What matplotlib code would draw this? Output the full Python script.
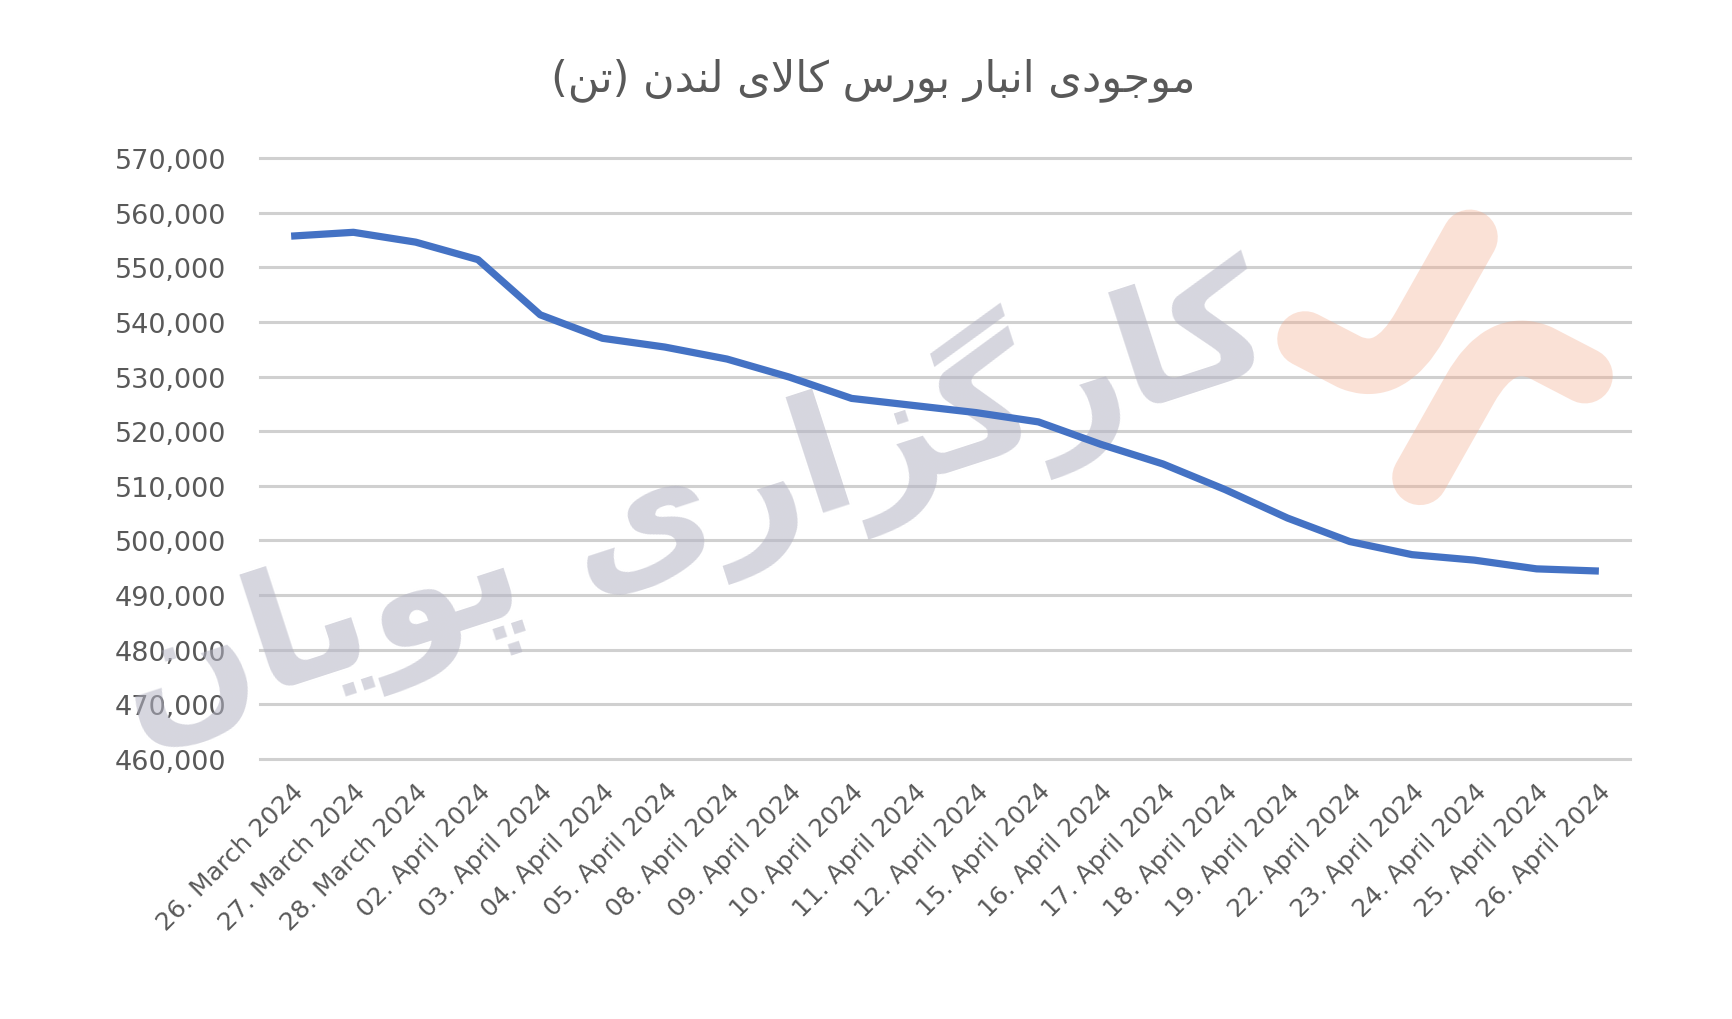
import matplotlib
matplotlib.use("Agg")
import matplotlib.pyplot as plt
from matplotlib.path import Path
from matplotlib.patches import PathPatch

# data (tonnes)
dates = ["26. March 2024", "27. March 2024", "28. March 2024",
         "02. April 2024", "03. April 2024", "04. April 2024", "05. April 2024",
         "08. April 2024", "09. April 2024", "10. April 2024", "11. April 2024",
         "12. April 2024", "15. April 2024", "16. April 2024", "17. April 2024",
         "18. April 2024", "19. April 2024", "22. April 2024", "23. April 2024",
         "24. April 2024", "25. April 2024", "26. April 2024"]
stock = [555700, 556400, 554600, 551400, 541300, 537000, 535400,
         533200, 529900, 526000, 524700, 523400, 521700, 517600, 514000,
         509300, 504100, 499800, 497400, 496400, 494800, 494400]
yticks = list(range(460000, 570001, 10000))

title_fa = "موجودی انبار بورس کالای لندن (تن)"
watermark_fa = "کارگزاری پویان"

# --- very small persian shaper (matplotlib does no arabic shaping) ---
forms = {
    "ا": ("\uFE8D", "\uFE8E", None, None),
    "ب": ("\uFE8F", "\uFE90", "\uFE91", "\uFE92"),
    "پ": ("\uFB56", "\uFB57", "\uFB58", "\uFB59"),
    "ت": ("\uFE95", "\uFE96", "\uFE97", "\uFE98"),
    "ج": ("\uFE9D", "\uFE9E", "\uFE9F", "\uFEA0"),
    "د": ("\uFEA9", "\uFEAA", None, None),
    "ر": ("\uFEAD", "\uFEAE", None, None),
    "ز": ("\uFEAF", "\uFEB0", None, None),
    "س": ("\uFEB1", "\uFEB2", "\uFEB3", "\uFEB4"),
    "ک": ("\uFB8E", "\uFB8F", "\uFB90", "\uFB91"),
    "گ": ("\uFB92", "\uFB93", "\uFB94", "\uFB95"),
    "ل": ("\uFEDD", "\uFEDE", "\uFEDF", "\uFEE0"),
    "م": ("\uFEE1", "\uFEE2", "\uFEE3", "\uFEE4"),
    "ن": ("\uFEE5", "\uFEE6", "\uFEE7", "\uFEE8"),
    "و": ("\uFEED", "\uFEEE", None, None),
    "ی": ("\uFBFC", "\uFBFD", "\uFBFE", "\uFBFF"),
}


def joins_left(c):
    return c in forms and forms[c][2] is not None


def shape_fa(s):
    out = []
    for i, c in enumerate(s):
        prev = s[i - 1] if i > 0 else None
        nxt = s[i + 1] if i + 1 < len(s) else None
        if c not in forms:
            out.append(c)
            continue
        if c == "ا" and prev == "ل":
            continue
        jp = prev is not None and joins_left(prev)
        if c == "ل" and nxt == "ا":
            out.append("\uFEFC" if jp else "\uFEFB")
            continue
        jn = nxt is not None and nxt in forms and forms[c][2] is not None
        iso, fin, ini, med = forms[c]
        if jp and jn:
            out.append(med)
        elif jp:
            out.append(fin)
        elif jn:
            out.append(ini)
        else:
            out.append(iso)
    vis = "".join(out)[::-1]
    return vis.translate(str.maketrans("()", ")("))


W, H = 1733, 1020
fig = plt.figure(figsize=(W / 100, H / 100), dpi=100)
ax = fig.add_axes([260 / W, 1 - 760 / H, 1370 / W, 601 / H])

x = list(range(len(dates)))
ax.plot(x, stock, color="#4472c4", lw=5.2, solid_joinstyle="round",
        solid_capstyle="butt", zorder=4)

ax.set_xlim(-0.5, len(dates) - 0.5)
ax.set_ylim(460000, 570000)
ax.set_yticks(yticks)
ax.set_yticklabels([f"{v:,}" for v in yticks])
ax.set_xticks(x)
ax.set_xticklabels(dates, rotation=45, ha="right", va="top",
                   rotation_mode="anchor")
ax.grid(axis="y", color="#d0d0d0", lw=2.2, zorder=0)
ax.set_axisbelow(True)
for g in ax.get_ygridlines():
    g.set_clip_on(False)
for s in ax.spines.values():
    s.set_visible(False)
ax.tick_params(axis="y", length=0, pad=24, labelsize=19.5, labelcolor="#595959")
ax.tick_params(axis="x", length=0, pad=14, labelsize=18, labelcolor="#595959")

fig.text(873 / W, 1 - 80 / H, shape_fa(title_fa), ha="center", va="center",
         fontsize=31, color="#595959", family="DejaVu Sans")

# watermark text
ax.text(690 / W, 1 - 500 / H, shape_fa(watermark_fa), transform=fig.transFigure,
        ha="center", va="center", rotation=18, fontsize=115, fontweight="bold",
        color="#b4b4c4", alpha=0.55, zorder=2, family="DejaVu Sans", clip_on=False)


# watermark logo, drawn in image pixels
def px(p):
    return ((1270 + p[0] / 3) / W, 1 - (200 + p[1] / 3) / H)


arm = [(600, 115), (450, 380), (360, 540), (240, 490), (105, 420)]
codes = [Path.MOVETO, Path.LINETO, Path.CURVE3, Path.CURVE3, Path.LINETO]
for pts in (arm, [(1050 - a, 950 - b) for a, b in arm]):
    patch = PathPatch(Path([px(p) for p in pts], codes), transform=fig.transFigure,
                      facecolor="none", edgecolor="#f3a98a", alpha=0.35, lw=40,
                      capstyle="round", joinstyle="round", zorder=3)
    ax.add_patch(patch)
    patch.set_clip_on(False)

fig.savefig("out.png", dpi=100, facecolor="white")
